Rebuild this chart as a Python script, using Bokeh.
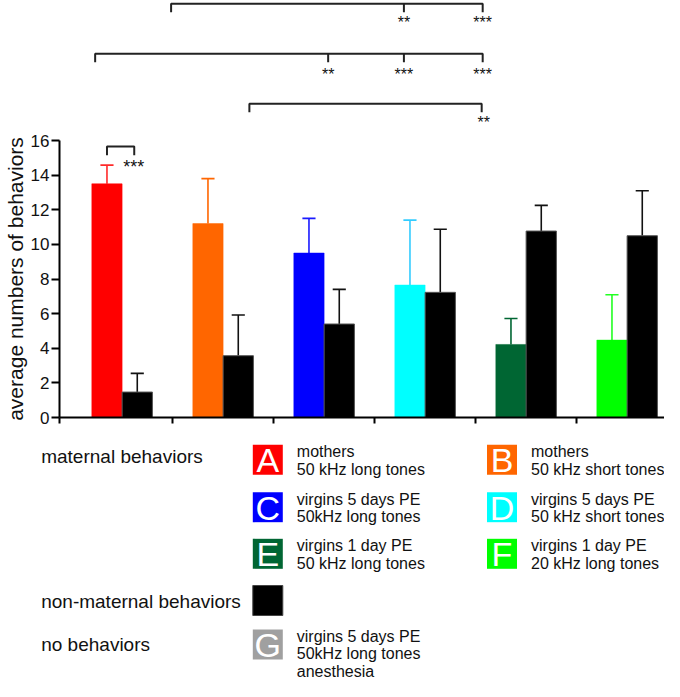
import numpy as np
from bokeh.plotting import figure
from bokeh.models import Range1d, FixedTicker
from bokeh.embed import file_html
from bokeh.resources import INLINE
from bokeh.core.properties import value

# ---------------- data ----------------
groups = ["A", "B", "C", "D", "E", "F"]
maternal = [13.5, 11.2, 9.5, 7.65, 4.22, 4.47]
maternal_err = [1.08, 2.6, 2.0, 3.75, 1.5, 2.62]
nonmaternal = [1.47, 3.57, 5.4, 7.23, 10.77, 10.5]
nonmaternal_err = [1.08, 2.35, 2.0, 3.64, 1.48, 2.6]

bar_colors = ["#ff0000", "#ff6600", "#0000ff", "#00ffff", "#006633", "#00ff00"]
err_colors = ["#ff2a2a", "#ff6600", "#1a1aff", "#33ccff", "#006633", "#22ff22"]

y_ticks = [0, 2, 4, 6, 8, 10, 12, 14, 16]
y_label = "average numbers of behaviors"

# significance brackets (x in group units, y in value units)
br_x0 = [0.485, -0.267, 1.26]
br_x1 = [3.57, 3.57, 3.56]
br_y = [23.896, 21.008, 18.12]
br_marks_x = [[2.79, 3.57], [2.04, 2.79, 3.57], [3.58]]
br_marks = [["**", "***"], ["**", "***", "***"], ["**"]]
br_star_y = [22.81, 19.81, 17.03]

pair_x0, pair_x1, pair_y = -0.15, 0.12, 15.65
pair_star_x, pair_star_y, pair_mark = 0.115, 14.48, "***"

# legend
legend_letters = ["A", "B", "C", "D", "E", "F"]
legend_lines = [
    ["mothers", "50 kHz long tones"],
    ["mothers", "50 kHz short tones"],
    ["virgins 5 days PE", "50kHz long tones"],
    ["virgins 5 days PE", "50 kHz short tones"],
    ["virgins 1 day PE", "50 kHz long tones"],
    ["virgins 1 day PE", "20 kHz long tones"],
]
group_labels = ["maternal behaviors", "non-maternal behaviors", "no behaviors"]
nonmat_color = "#000000"
none_letter = "G"
none_color = "#a0a0a0"
none_lines = ["virgins 5 days PE", "50kHz long tones", "anesthesia"]

FONT = value("Liberation Sans")

# ---------------- geometry ----------------
W = 664
LEFT = 59
PXU = 101.0                      # pixels per group unit
X0 = -0.62
X1 = X0 + (W - LEFT) / PXU
FRAME_H = 277
YPX = FRAME_H / 16.0
MAIN_TOP = 7
MAIN_BOTTOM = 15
TOP_H = 140 - MAIN_TOP
MAIN_H = MAIN_TOP + FRAME_H + MAIN_BOTTOM
LEG_H = 681 - TOP_H - MAIN_H

bw = 0.3
cap = 0.065

# ---------------- main chart ----------------
p = figure(width=W, height=MAIN_H, x_range=Range1d(X0, X1), y_range=Range1d(0, 16),
           output_backend="svg", toolbar_location=None,
           min_border_left=LEFT, min_border_right=0,
           min_border_top=MAIN_TOP, min_border_bottom=MAIN_BOTTOM)
p.outline_line_color = None
p.grid.visible = False

idx = np.arange(len(groups))
xm = idx - bw / 2
xn = idx + bw / 2
mat = np.array(maternal)
non = np.array(nonmaternal)
mat_top = mat + np.array(maternal_err)
non_top = non + np.array(nonmaternal_err)

p.segment(x0=xm, y0=mat, x1=xm, y1=mat_top, line_color=err_colors, line_width=1.6)
p.segment(x0=xm - cap, y0=mat_top, x1=xm + cap, y1=mat_top, line_color=err_colors, line_width=1.6)
p.segment(x0=xn, y0=non, x1=xn, y1=non_top, line_color="#111111", line_width=1.6)
p.segment(x0=xn - cap, y0=non_top, x1=xn + cap, y1=non_top, line_color="#111111", line_width=1.6)

p.vbar(x=xm, top=mat, width=bw, bottom=0, fill_color=bar_colors, line_color=bar_colors, line_width=0.5)
p.vbar(x=xn, top=non, width=bw, bottom=0, fill_color=nonmat_color, line_color="#555555", line_width=1)

p.line(x=[pair_x0, pair_x0, pair_x1, pair_x1],
       y=[pair_y - 8.6 / YPX, pair_y, pair_y, pair_y - 8.6 / YPX],
       line_color="#222222", line_width=2)
p.text(x=[pair_star_x], y=[pair_star_y], text=[pair_mark], text_font=FONT,
       text_font_size="18px", text_align="center", text_baseline="middle",
       text_color="#111111")

p.yaxis.ticker = FixedTicker(ticks=y_ticks)
p.yaxis.minor_tick_line_color = None
p.yaxis.major_tick_out = 8
p.yaxis.major_tick_in = 0
p.yaxis.major_tick_line_width = 2
p.yaxis.axis_line_width = 2
p.yaxis.axis_line_color = "#000000"
p.yaxis.major_tick_line_color = "#000000"
p.yaxis.major_label_standoff = 2
p.yaxis.major_label_text_font = "Liberation Sans"
p.yaxis.major_label_text_font_size = "17px"
p.yaxis.major_label_text_color = "#111111"
p.yaxis.axis_label = y_label
p.yaxis.axis_label_text_font = "Liberation Sans"
p.yaxis.axis_label_text_font_size = "21px"
p.yaxis.axis_label_text_font_style = "normal"
p.yaxis.axis_label_text_color = "#111111"
p.yaxis.axis_label_standoff = 1

p.xaxis.ticker = FixedTicker(ticks=[X0] + list(idx[:-1] + 0.5))
p.xaxis.minor_tick_line_color = None
p.xaxis.major_tick_out = 6
p.xaxis.major_tick_in = 0
p.xaxis.major_tick_line_width = 2
p.xaxis.axis_line_width = 2
p.xaxis.axis_line_color = "#000000"
p.xaxis.major_tick_line_color = "#000000"
p.xaxis.major_label_text_font_size = "1px"
p.xaxis.major_label_text_color = None
p.xaxis.major_label_standoff = 0

# ---------------- bracket strip on top ----------------
t = figure(width=W, height=TOP_H, x_range=Range1d(X0, X1),
           y_range=Range1d(16 + MAIN_TOP / YPX, 16 + (MAIN_TOP + TOP_H) / YPX),
           output_backend="svg", toolbar_location=None,
           x_axis_location=None, y_axis_location=None,
           min_border_left=LEFT, min_border_right=0, min_border_top=0, min_border_bottom=0)
t.outline_line_color = None
t.grid.visible = False
leg = 8.4 / YPX
for x0, x1, y, mx, mk, sy in zip(br_x0, br_x1, br_y, br_marks_x, br_marks, br_star_y):
    t.line(x=[x0, x0, x1, x1], y=[y - leg, y, y, y - leg], line_color="#222222", line_width=2)
    mids = [m for m in mx if abs(m - x1) > 0.05]
    if mids:
        t.segment(x0=mids, y0=[y] * len(mids), x1=mids, y1=[y - leg] * len(mids),
                  line_color="#222222", line_width=2)
    t.text(x=mx, y=[sy] * len(mx), text=mk, text_font=FONT, text_font_size="16px",
           text_align="center", text_baseline="middle", text_color="#111111")

# ---------------- legend ----------------
PY0 = TOP_H + MAIN_H
L = figure(width=W, height=LEG_H, x_range=Range1d(1, 1 + W), y_range=Range1d(PY0 + LEG_H, PY0),
           output_backend="svg", toolbar_location=None,
           x_axis_location=None, y_axis_location=None,
           min_border_left=0, min_border_right=0, min_border_top=0, min_border_bottom=0)
L.outline_line_color = None
L.grid.visible = False

SW = 30
col_x = [253.3, 487.5]
row_top = [444.3, 491.7, 538.3]
black_top = 585.0
none_top = 629.0
label_x = 41.7
text_dx = 44.0
line_mid = [6.8, 24.4, 42.0]   # line centres below swatch top

sx, sy, st, sc, tx, ty, tt = [], [], [], [], [], [], []
for i, letter in enumerate(legend_letters):
    cx = col_x[i % 2]
    ry = row_top[i // 2]
    sx.append(cx); sy.append(ry); st.append(letter); sc.append(bar_colors[i])
    for k, line in enumerate(legend_lines[i]):
        tx.append(cx + text_dx); ty.append(ry + line_mid[k]); tt.append(line)
sx.append(col_x[0]); sy.append(none_top); st.append(none_letter); sc.append(none_color)
for k, line in enumerate(none_lines):
    tx.append(col_x[0] + text_dx); ty.append(none_top + line_mid[k]); tt.append(line)

sx = np.array(sx); sy = np.array(sy)
L.quad(left=sx, right=sx + SW, top=sy, bottom=sy + SW, fill_color=sc, line_color=None)
L.quad(left=[col_x[0]], right=[col_x[0] + SW], top=[black_top], bottom=[black_top + SW],
       fill_color=nonmat_color, line_color="#444444", line_width=1)
L.text(x=sx + SW / 2, y=sy + SW / 2 + 0.5, text=st, text_font=FONT, text_font_size="34px",
       text_align="center", text_baseline="middle", text_color="#ffffff")
L.text(x=tx, y=ty, text=tt, text_font=FONT, text_font_size="16px",
       text_align="left", text_baseline="middle", text_color="#111111")
L.text(x=[label_x] * 3, y=[455.6, black_top + 15.5, none_top + 15.0], text=group_labels,
       text_font=FONT, text_font_size="19px", text_align="left", text_baseline="middle",
       text_color="#111111")

open("out.html", "w").write(file_html([t, p, L], INLINE))
